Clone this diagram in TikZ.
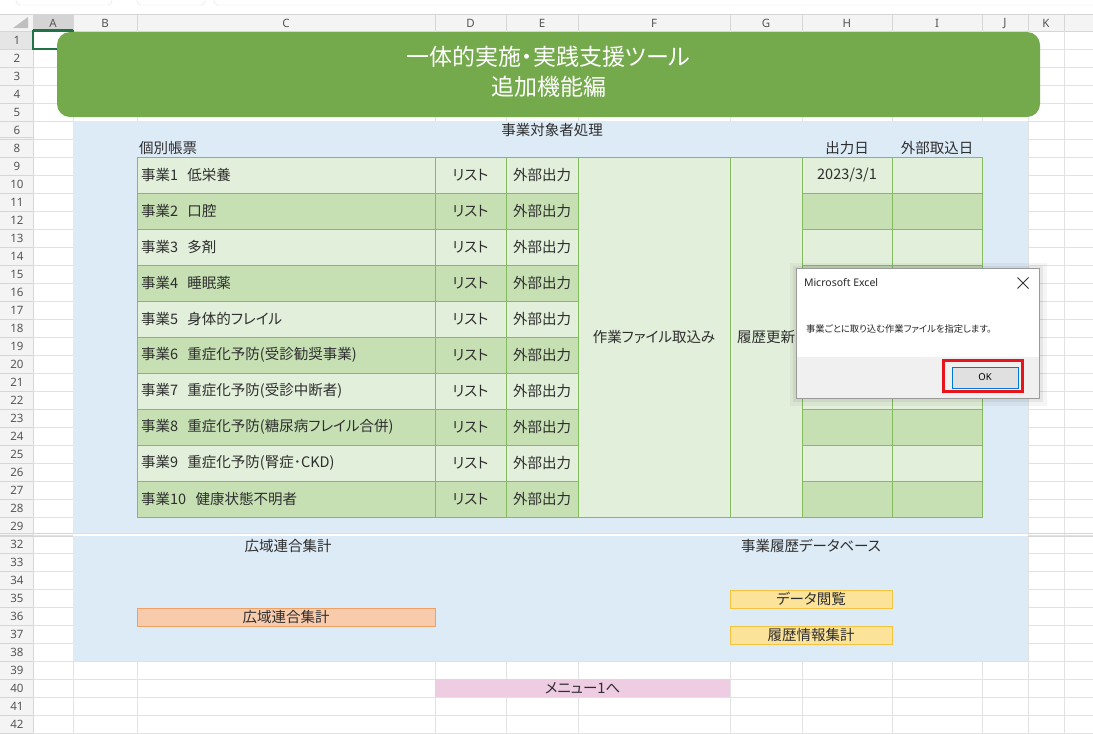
\documentclass[tikz,border=0pt]{standalone}
\usepackage{fontspec}
\setmainfont{Noto Sans CJK JP}[RawFeature={+palt}]
\newfontfamily\uifont{Noto Sans}
\definecolor{bannergreen}{HTML}{74A94C}
\definecolor{sheetblue}{HTML}{DDEBF7}
\definecolor{celllight}{HTML}{E2EFDA}
\definecolor{celldark}{HTML}{C6E0B4}
\definecolor{cellline}{HTML}{84BB5F}
\definecolor{gridgray}{HTML}{E2E2E2}
\definecolor{headgray}{HTML}{F4F4F4}
\definecolor{headline}{HTML}{D6D6D6}
\definecolor{headtext}{HTML}{555555}
\definecolor{bodytext}{HTML}{2E2E2E}
\definecolor{orangefill}{HTML}{F8CBAD}
\definecolor{orangeline}{HTML}{F0A062}
\definecolor{yellowfill}{HTML}{FCE39A}
\definecolor{yellowline}{HTML}{F5C242}
\definecolor{pinkfill}{HTML}{EECCE2}
\definecolor{selgreen}{HTML}{217346}
\definecolor{dlggray}{HTML}{F0F0F0}
\definecolor{dlgline}{HTML}{9A9A9A}
\definecolor{okblue}{HTML}{0078D7}
\definecolor{markred}{HTML}{E8141C}

\begin{document}
\begin{tikzpicture}
[x=1pt, y=-1pt, every node/.style={inner sep=0pt, outer sep=0pt},
 bodyfont/.style={font=\fontsize{14.5}{17}\selectfont, text=bodytext},
 cell/.style={bodyfont, draw=cellline, line width=1pt, minimum height=36pt},
 namecell/.style={cell, text width=290pt, inner xsep=4pt, align=left},
 button/.style={bodyfont, line width=1pt, minimum height=18pt},
 headlabel/.style={font=\uifont\fontsize{11.5}{13}\selectfont, text=headtext}]
\useasboundingbox (0,0) rectangle (1093,734);
\fill[white] (0,0) rectangle (1093,734);
% ribbon remains at the very top
\draw[gridgray, rounded corners=4pt] (16,-8) rectangle (112,5);
\draw[gridgray, rounded corners=4pt] (137,-8) rectangle (205,5);
\draw[gridgray, rounded corners=4pt] (214,-8) rectangle (1100,5);
% column and row headers
\fill[headgray] (0,14) rectangle (1093,31);
\fill[headgray] (0,31) rectangle (33,734);
\fill[black!17] (33,14) rectangle (73,31);
\fill[black!10] (0,31) rectangle (33,49);
\draw[headline] (0,14) -- (1093,14);
\draw[headline] (0,31) -- (1093,31);
\draw[headline] (33,14) -- (33,734);
\fill[black!25] (13,28) -- (28,28) -- (28,17) -- cycle;
\foreach \x in {73,137,435,506,578,730,802,892,982,1028,1064}
  \draw[headline] (\x,14) -- (\x,31);
\draw[selgreen, line width=1.5pt] (33,30.2) -- (73,30.2);
\foreach \x/\c in {53/A,105/B,286/C,470.5/D,542/E,654/F,766/G,847/H,937/I,1005/J,1046/K}
  \node (col\c) [headlabel] at (\x,23) {\c};
% grid
\foreach \k in {1,...,39} {
  \draw[headline] (0,{31+18*\k}) -- (33,{31+18*\k});
  \draw[gridgray] (33,{31+18*\k}) -- (1093,{31+18*\k});
}
\foreach \x in {73,137,435,506,578,730,802,892,982,1028,1064}
  \draw[gridgray] (\x,31) -- (\x,734);
\foreach \r in {1,...,6}
  \node (row\r) [headlabel] at (17,{40+18*(\r-1)}) {\r};
\foreach \r in {8,...,29}
  \node (row\r) [headlabel] at (17,{40+18*(\r-2)}) {\r};
\foreach \r in {32,...,42}
  \node (row\r) [headlabel] at (17,{40+18*(\r-4)}) {\r};
\draw[headline] (0,137.5) -- (33,137.5);
\draw[headline] (0,533.5) -- (1093,533.5);
\draw[headline] (0,536.5) -- (1093,536.5);
% blue panel
\fill[sheetblue] (73,121) rectangle (1028,661);
\draw[white, line width=2pt] (73,535) -- (1028,535);
\draw[black!12, line width=0.5pt] (73,533.5) -- (1028,533.5);
% selected cell A1
\draw[selgreen, line width=2pt] (33,31) rectangle (73,49);
% title banner
\node (banner) [fill=bannergreen, rounded corners=13pt, minimum width=983pt, minimum height=85pt] at (548.5,74.5) {};
\node (title) [font=\fontsize{23}{26}\selectfont, text=white] at (548.5,57) {一体的実施・実践支援ツール};
\node (subtitle) [font=\fontsize{23}{26}\selectfont, text=white] at (548.5,87) {追加機能編};
% first panel
\node (target) [bodyfont] at (552,130) {事業対象者処理};
\node (sheets) [bodyfont, anchor=west] at (139,148) {個別帳票};
\node (outday) [bodyfont] at (847,148) {出力日};
\node (inday) [bodyfont] at (937,148) {外部取込日};
\foreach \n/\job/\shade in {1/低栄養/celllight, 2/口腔/celldark, 3/多剤/celllight,
    4/睡眠薬/celldark, 5/身体的フレイル/celllight, 6/重症化予防(受診勧奨事業)/celldark,
    7/重症化予防(受診中断者)/celllight, 8/重症化予防(糖尿病フレイル合併)/celldark,
    9/重症化予防(腎症･CKD)/celllight, 10/健康状態不明者/celldark} {
  \pgfmathsetmacro\rowy{175+36*(\n-1)}
  \node (job\n) [namecell, fill=\shade] at (286,\rowy) {事業\n\hspace{0.65em}\job};
  \node (list\n) [cell, fill=\shade, minimum width=71pt] at (470.5,\rowy) {リスト};
  \node (export\n) [cell, fill=\shade, minimum width=72pt] at (542,\rowy) {外部出力};
  \node (date\n) [cell, fill=\shade, minimum width=90pt] at (847,\rowy) {};
  \node (import\n) [cell, fill=\shade, minimum width=90pt] at (937,\rowy) {};
}
\node (datetext) [bodyfont] at (date1) {2023/3/1};
\node (fileimport) [cell, fill=celllight, minimum width=152pt, minimum height=360pt] at (654,337) {作業ファイル取込み};
\node (histupdate) [cell, fill=celllight, minimum width=72pt, minimum height=360pt] at (766,337) {履歴更新};
% second panel
\node (uniontitle) [bodyfont] at (288,546) {広域連合集計};
\node (dbtitle) [bodyfont] at (811,546) {事業履歴データベース};
\node (unionsum) [button, fill=orangefill, draw=orangeline, minimum width=298pt] at (286,617) {広域連合集計};
\node (dataview) [button, fill=yellowfill, draw=yellowline, minimum width=162pt] at (811,599) {データ閲覧};
\node (histsum) [button, fill=yellowfill, draw=yellowline, minimum width=162pt] at (811,635) {履歴情報集計};
\node (tomenu) [button, fill=pinkfill, minimum width=295pt] at (582.5,688) {メニュー1へ};
% message box
\fill[black, opacity=0.04] (790,263) rectangle (1047,406);
\fill[black, opacity=0.06] (793,266) rectangle (1043,402);
\node (msgbox) [fill=white, draw=dlgline, line width=0.8pt, minimum width=243pt, minimum height=130pt] at (917.5,333) {};
\fill[dlggray] (796.5,357) rectangle (1038.5,397.5);
\node (msgtitle) [font=\uifont\fontsize{10.5}{12}\selectfont, text=black!85, anchor=west] at (804,283) {Microsoft Excel};
\draw[black!80, line width=1pt] (1017.5,277.5) -- (1028.5,288.5);
\draw[black!80, line width=1pt] (1017.5,288.5) -- (1028.5,277.5);
\node (msgtext) [font=\fontsize{9.3}{11}\selectfont, text=black!85, anchor=west] at (806,329) {事業ごとに取り込む作業ファイルを指定します。};
\node (okbtn) [fill=black!12, draw=okblue, line width=1pt, minimum width=66pt, minimum height=21pt, font=\uifont\fontsize{9.5}{11}\selectfont] at (985,377.5) {OK};
\node (okmark) [draw=markred, line width=3pt, minimum width=79pt, minimum height=31pt] at (982.5,375.5) {};
\end{tikzpicture}
\end{document}
